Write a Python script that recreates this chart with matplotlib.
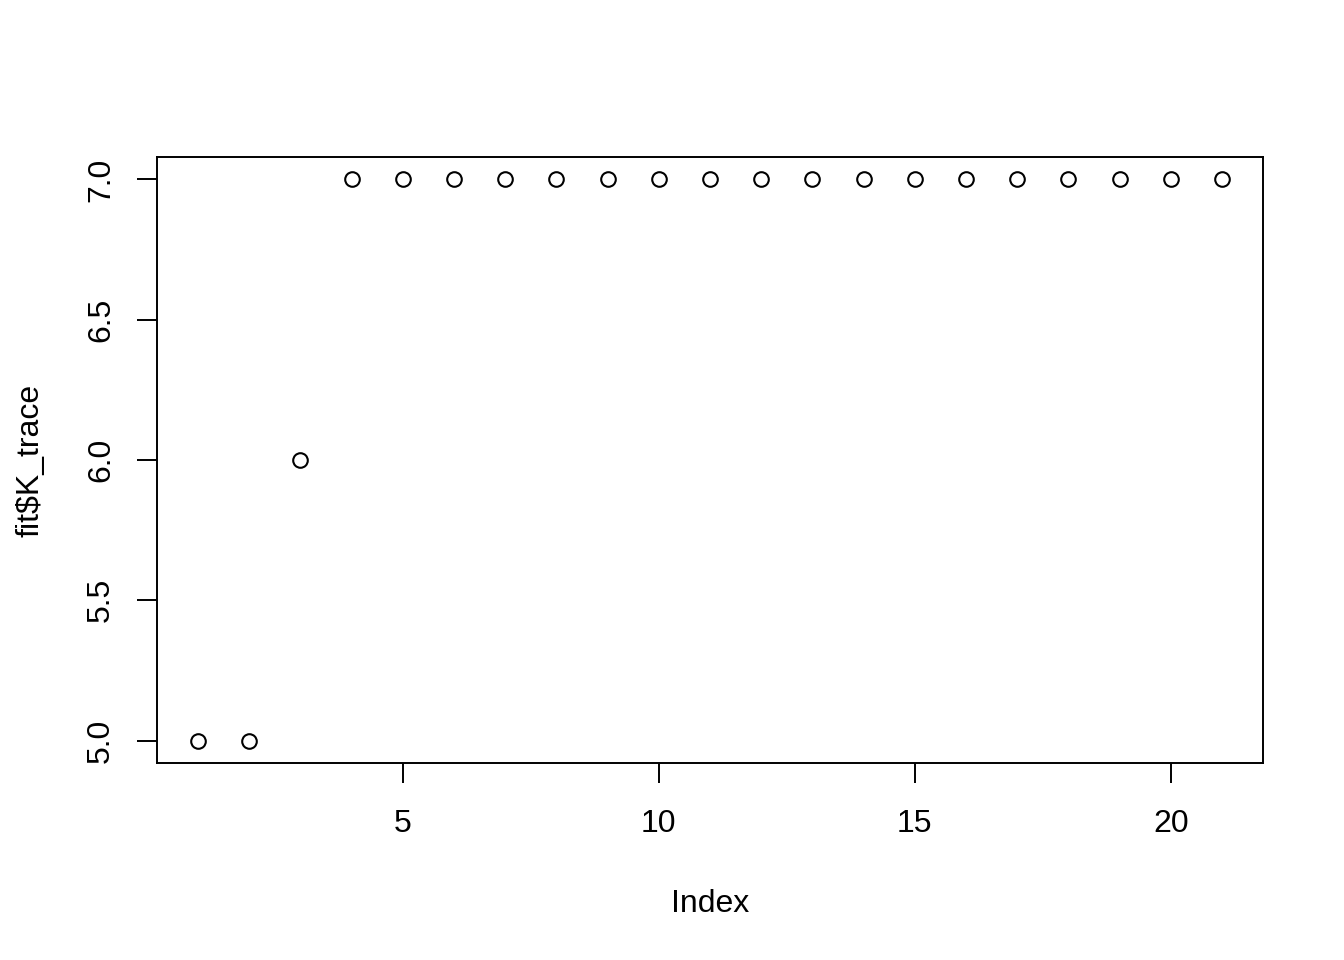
import matplotlib
matplotlib.use("Agg")
import matplotlib.pyplot as plt

# ==========================
# DATA
# ==========================
index = list(range(1, 22))
k_trace = [5, 5, 6, 7, 7, 7, 7, 7, 7, 7, 7, 7, 7, 7, 7, 7, 7, 7, 7, 7, 7]

x_ticks = [5, 10, 15, 20]
y_ticks = [5.0, 5.5, 6.0, 6.5, 7.0]

plt.rcParams["font.family"] = ["Liberation Sans", "DejaVu Sans"]

# ==========================
# PLOT
# ==========================
fig = plt.figure(figsize=(13.44, 9.6), dpi=100)
ax = fig.add_axes([0.1168, 0.2052, 0.8229, 0.6313])

ax.plot(index, k_trace, linestyle="none", marker="o", markersize=10.5,
        markerfacecolor="none", markeredgecolor="black", markeredgewidth=1.5)

# R-style 4% padding
ax.set_xlim(0.2, 21.8)
ax.set_ylim(4.92, 7.08)

ax.set_xticks(x_ticks)
ax.set_xticklabels([str(t) for t in x_ticks])
ax.set_yticks(y_ticks)
ax.set_yticklabels([f"{t:.1f}" for t in y_ticks], rotation=90, va="center")

ax.tick_params(axis="both", direction="out", length=14.4, width=1.4,
               labelsize=23, colors="black")
ax.tick_params(axis="x", pad=18.5)
ax.tick_params(axis="y", pad=15)

for s in ax.spines.values():
    s.set_linewidth(1.4)
    s.set_color("black")

ax.set_xlabel("Index", fontsize=23, labelpad=36)
ax.set_ylabel("fit\\$K_trace", fontsize=23, labelpad=29)

fig.savefig("out.png", dpi=100)
